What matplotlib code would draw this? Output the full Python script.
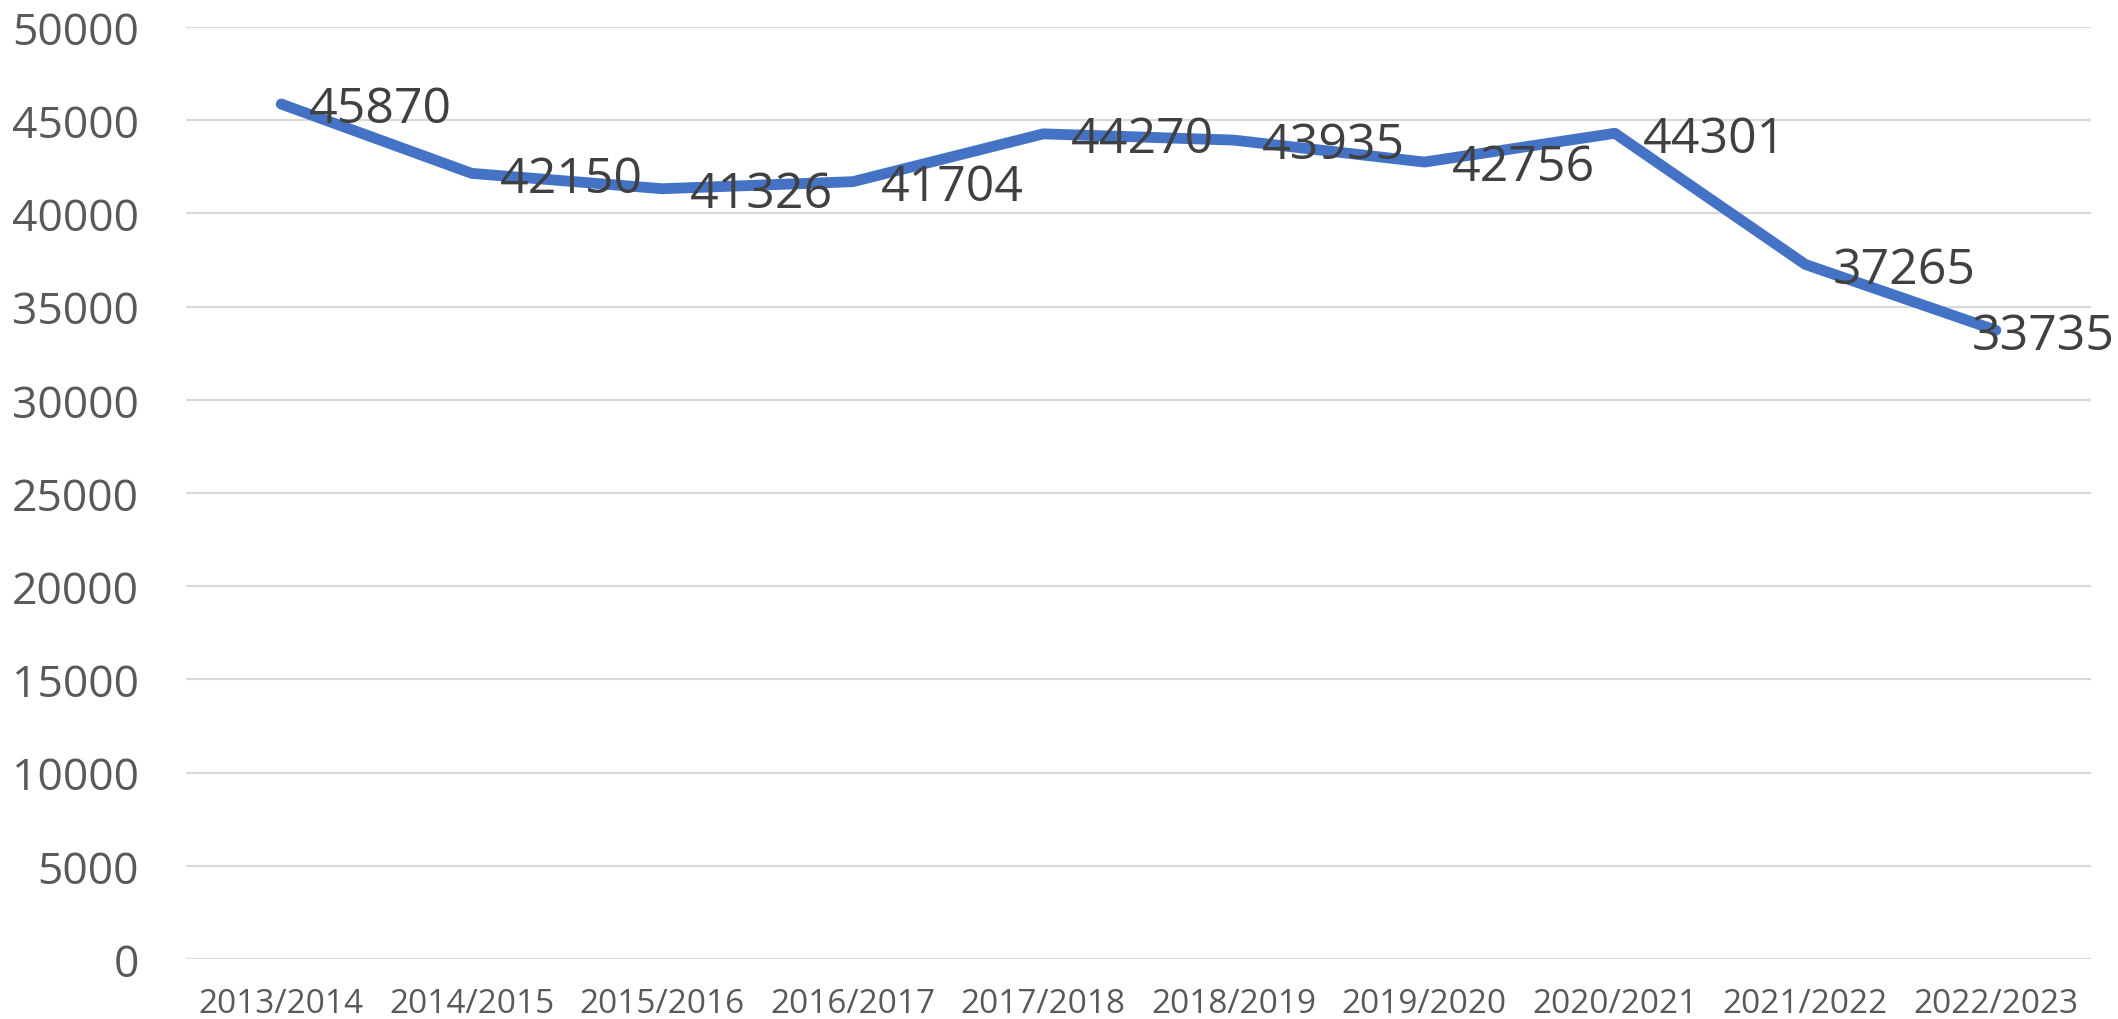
import matplotlib
matplotlib.use("Agg")
import matplotlib.pyplot as plt

years = ["2013/2014", "2014/2015", "2015/2016", "2016/2017", "2017/2018",
         "2018/2019", "2019/2020", "2020/2021", "2021/2022", "2022/2023"]
values = [45870, 42150, 41326, 41704, 44270, 43935, 42756, 44301, 37265, 33735]
yticks = list(range(0, 50001, 5000))

plt.rcParams['font.family'] = ['Open Sans', 'DejaVu Sans']

fig = plt.figure(figsize=(21.18, 10.2), dpi=100)
ax = fig.add_axes([0.0878, 0.0588, 0.8995, 0.9137])

x = list(range(len(years)))
ax.plot(x, values, color="#4472C4", linewidth=7.8, solid_capstyle="round",
        solid_joinstyle="round", clip_on=False, zorder=3)

# data labels, right of each point (last one pulled back inside)
for i, v in enumerate(values):
    if i == len(values) - 1:
        ax.annotate(str(v), (i, v), xytext=(-17, -4), textcoords="offset points",
                    ha="left", va="center", fontsize=36, color="#404040", zorder=4)
    else:
        ax.annotate(str(v), (i, v), xytext=(20, -4), textcoords="offset points",
                    ha="left", va="center", fontsize=36, color="#404040", zorder=4)

ax.set_xlim(-0.5, len(years) - 0.5)
ax.set_ylim(0, 50000)
ax.set_yticks(yticks)
ax.set_yticklabels([str(t) for t in yticks])
ax.set_xticks(x)
ax.set_xticklabels(years)

ax.grid(axis="y", color="#D9D9D9", linewidth=1.6)
ax.set_axisbelow(True)
for s in ax.spines.values():
    s.set_visible(False)
ax.tick_params(axis="y", length=0, pad=34, labelsize=32, labelcolor="#595959")
ax.tick_params(axis="x", length=0, pad=20, labelsize=24, labelcolor="#595959")

fig.savefig("out.png", dpi=100)
